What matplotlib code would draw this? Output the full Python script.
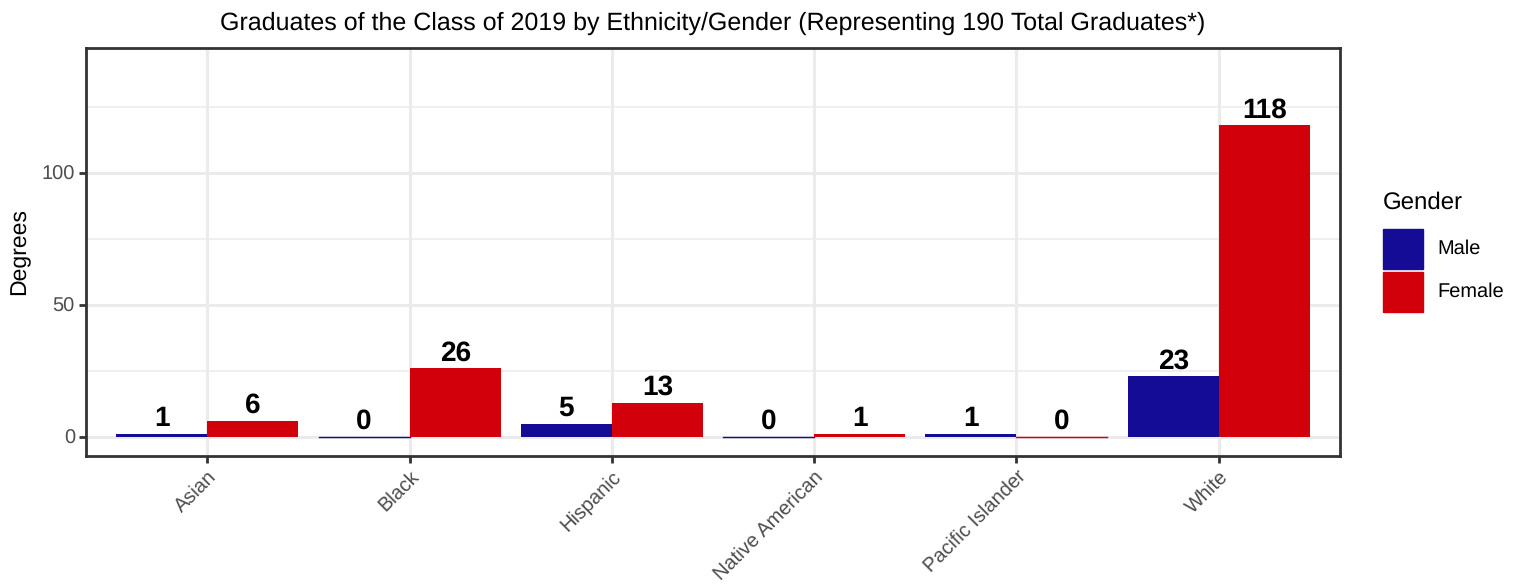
import matplotlib.pyplot as plt
import numpy as np
from matplotlib.patches import Rectangle

plt.rcParams['font.family'] = ['Liberation Sans', 'DejaVu Sans']
plt.rcParams['text.hinting'] = 'no_hinting'
plt.rcParams['text.hinting_factor'] = 1

ethnicities = ["Asian", "Black", "Hispanic", "Native American", "Pacific Islander", "White"]
male = [1, 0, 5, 0, 1, 23]
female = [6, 26, 13, 1, 0, 118]
genders = ["Male", "Female"]
colors = ["#140C94", "#D2000A"]

W, H = 1525, 584
fig = plt.figure(figsize=(W / 100, H / 100), dpi=100)
# panel from x=86..1340, y=48..456 (pixels)
ax = fig.add_axes([86 / W, 1 - 456 / H, (1340 - 86) / W, (456 - 48) / H])

x = np.arange(len(ethnicities))
width = 0.45
for vals, off, col in [(male, -width / 2, colors[0]), (female, width / 2, colors[1])]:
    bars = ax.bar(x + off, vals, width, color=col, zorder=3)
    for rect, v in zip(bars, vals):
        if v == 0:
            # zero-height bar shows as a thin line
            ax.plot([rect.get_x(), rect.get_x() + width], [0, 0], color=col, lw=1, zorder=3)
        ax.text(rect.get_x() + width / 2, v + 0.8, str(v), ha='center', va='bottom',
                fontsize=20.5, fontweight='bold', color='black', zorder=4)

ax.set_xlim(-0.6, 5.6)
ax.set_ylim(-7.2, 147.3)
ax.set_yticks([0, 50, 100])
ax.set_yticks([25, 75, 125], minor=True)
ax.set_xticks(x)
ax.set_xticklabels(ethnicities, rotation=45, ha='right', rotation_mode='anchor')

ax.grid(True, which='major', color='#EBEBEB', lw=2.2, zorder=0)
ax.grid(True, which='minor', axis='y', color='#EBEBEB', lw=1.1, zorder=0)
ax.tick_params(axis='both', which='major', length=5, width=2, color='#333333',
               labelsize=14.3, labelcolor='#4D4D4D', pad=3)
ax.tick_params(axis='y', which='minor', length=0)
for s in ax.spines.values():
    s.set_color('#333333')
    s.set_linewidth(2)

ax.set_ylabel("Degrees", fontsize=16.5, labelpad=8)
ax.set_title("Graduates of the Class of 2019 by Ethnicity/Gender (Representing 190 Total Graduates*)",
             fontsize=18, pad=13)

# legend drawn in pixel coordinates
fig.text(1383 / W, 1 - 203 / H, "Gender", fontsize=17.5, va='center', ha='left')
for i, (g, c) in enumerate(zip(genders, colors)):
    top = 229 + i * 43
    fig.add_artist(Rectangle((1383 / W, 1 - (top + 40) / H), 40 / W, 40 / H,
                             transform=fig.transFigure, color=c))
    fig.text(1437 / W, 1 - (top + 20) / H, g, fontsize=14.5, va='center', ha='left')

fig.savefig("out.png", dpi=100)
